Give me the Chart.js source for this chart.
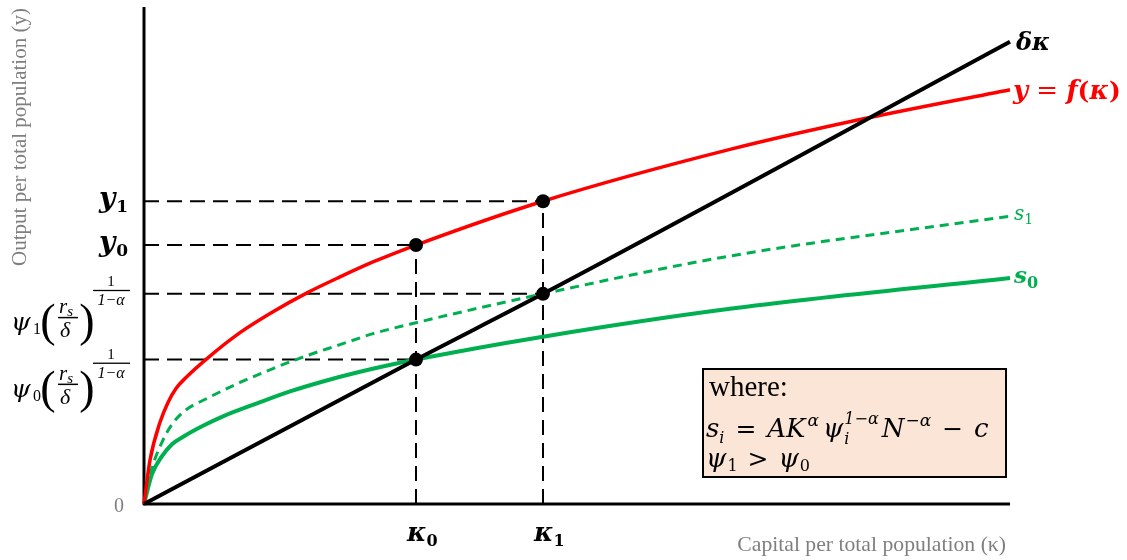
<!DOCTYPE html>
<html>
<head>
<meta charset="utf-8">
<script src="https://cdn.jsdelivr.net/npm/chart.js"></script>
<style>
  html, body { margin: 0; padding: 0; background: #fff; }
  #wrap { width: 1127px; height: 560px; }
</style>
</head>
<body>
<div id="wrap"><canvas id="solowChart"></canvas></div>
<script>
    // Kurver lest av bildet: [kapital per innbygger, produksjon per innbygger]
    const deltaK = [[0, 0], [272, 145], [399, 211], [866, 464]];
    const fK = [[0, 0], [6, 44], [16, 82], [24, 102], [32, 116], [42, 127], [63, 146], [96, 172], [129, 193],
        [163, 212], [196, 228], [229, 243], [272, 260], [399, 304], [586, 356], [716, 386], [866, 416]];
    const s0 = [[0, 0], [8, 30], [18, 48], [28, 60], [40, 68], [60, 79], [79, 88], [113, 101], [146, 113],
        [179, 123], [213, 132], [272, 145], [399, 168], [586, 196], [866, 227]];
    const s1 = [[0, 0], [8, 36], [18, 62], [28, 80], [40, 93], [63, 106], [96, 122], [129, 136], [163, 149],
        [196, 160], [229, 171], [272, 182], [399, 211], [586, 249], [866, 289]];

    // Likevektspunkter
    const kappaStar = [272, 399];   // κ0, κ1
    const yStar = [260, 304];       // y0, y1
    const psiStar = [145, 211];     // ψ0(rs/δ)^(1/(1-α)), ψ1(...)

    const xMax = 866;
    const yMax = 499;

    const RED = '#ff0000';
    const GREEN = '#00b050';
    const GRAY = '#7f7f7f';

    const toXY = arr => arr.map(p => ({ x: p[0], y: p[1] }));

    // Stiplede hjelpelinjer
    const guides = [];
    for (let i = 0; i < 2; i++) {
        guides.push([{ x: 0, y: yStar[i] }, { x: kappaStar[i], y: yStar[i] }]);
        guides.push([{ x: 0, y: psiStar[i] }, { x: kappaStar[i], y: psiStar[i] }]);
        guides.push([{ x: kappaStar[i], y: 0 }, { x: kappaStar[i], y: yStar[i] }]);
    }
    const dots = [];
    for (let i = 0; i < 2; i++) {
        dots.push({ x: kappaStar[i], y: yStar[i] });
        dots.push({ x: kappaStar[i], y: psiStar[i] });
    }

    const MATH = '"DejaVu Serif", serif';
    const TITLE = '"Liberation Serif", serif';

    // tegner tekstbiter etter hverandre, returnerer slutt-x
    function runs(ctx, x, y, parts) {
        ctx.textAlign = 'left';
        ctx.textBaseline = 'alphabetic';
        for (const p of parts) {
            ctx.font = p.f;
            ctx.fillStyle = p.c || '#000';
            ctx.fillText(p.t, x + (p.dx || 0), y + (p.dy || 0));
            x += ctx.measureText(p.t).width + (p.dx || 0);
        }
        return x;
    }

    function psiLabel(ctx, x, base, sub, expBar) {
        // ψ_i ( r_s / δ )^{1/(1-α)}
        ctx.fillStyle = '#000';
        runs(ctx, x, base, [{ t: 'ψ', f: 'italic 25px ' + MATH }]);
        runs(ctx, x + 22, base + 4, [{ t: sub, f: '16px ' + TITLE }]);
        ctx.font = '46px ' + TITLE;
        ctx.textAlign = 'center';
        ctx.fillText('(', x + 37, base + 6);
        ctx.fillText(')', x + 76, base + 6);
        // brøk rs / δ
        runs(ctx, x + 48, base - 17, [
            { t: 'r', f: 'italic 21px ' + TITLE },
            { t: 's', f: 'italic 15px ' + TITLE, dy: 3 }
        ]);
        ctx.fillRect(x + 47, base - 13, 20, 1.5);
        runs(ctx, x + 49, base + 7, [{ t: 'δ', f: 'italic 22px ' + TITLE }]);
        // eksponent 1/(1-α)
        const ey = base - expBar;
        ctx.textAlign = 'center';
        ctx.font = '15px ' + TITLE;
        ctx.fillText('1', x + 100, ey - 4);
        ctx.fillRect(x + 82, ey, 37, 1.3);
        ctx.font = 'italic 16px ' + TITLE;
        ctx.fillText('1−α', x + 100, ey + 15);
        ctx.textAlign = 'left';
    }

    const labelPlugin = {
        id: 'labels',
        beforeDatasetsDraw(chart) {
            const { ctx, chartArea: a } = chart;
            ctx.save();
            ctx.strokeStyle = '#000';
            ctx.lineWidth = 3;
            ctx.beginPath();
            ctx.moveTo(a.left, a.top);
            ctx.lineTo(a.left, a.bottom + 1);
            ctx.moveTo(a.left - 1, a.bottom);
            ctx.lineTo(a.right, a.bottom);
            ctx.stroke();
            ctx.restore();
        },
        afterDatasetsDraw(chart) {
            const { ctx, chartArea: a, scales } = chart;
            const sx = scales.x, sy = scales.y;
            ctx.save();

            // aksetitler
            ctx.fillStyle = GRAY;
            ctx.font = '21.7px ' + TITLE;
            ctx.textAlign = 'right';
            ctx.textBaseline = 'middle';
            ctx.fillText('Capital per total population (κ)', a.right - 4, 545);
            ctx.font = '20px ' + TITLE;
            ctx.fillText('0', a.left - 20, a.bottom + 3);
            ctx.save();
            ctx.translate(20, 137);
            ctx.rotate(-Math.PI / 2);
            ctx.textAlign = 'center';
            ctx.font = '21px ' + TITLE;
            ctx.fillText('Output per total population (y)', 0, 0);
            ctx.restore();

            // y-etiketter
            ctx.fillStyle = '#000';
            const yl = [['y', '1', yStar[1]], ['y', '0', yStar[0]]];
            for (const [t, s, v] of yl) {
                const py = sy.getPixelForValue(v);
                ctx.font = 'bold italic 28px ' + MATH;
                const w1 = ctx.measureText(t).width;
                ctx.font = 'bold 17px ' + MATH;
                const w2 = ctx.measureText(s).width;
                runs(ctx, 128 - w1 - w2 - 1, py + 6, [
                    { t: t, f: 'bold italic 28px ' + MATH },
                    { t: s, f: 'bold 17px ' + MATH, dy: 5, dx: 1 }
                ]);
            }
            psiLabel(ctx, 11, sy.getPixelForValue(psiStar[1]) + 36, '1', 40);
            psiLabel(ctx, 11, sy.getPixelForValue(psiStar[0]) + 37, '0', 34);

            // κ-etiketter
            for (let i = 0; i < 2; i++) {
                const px = sx.getPixelForValue(kappaStar[i]);
                runs(ctx, px - 9, a.bottom + 37, [
                    { t: 'κ', f: 'bold italic 26px ' + MATH },
                    { t: String(i), f: 'bold 16px ' + MATH, dy: 5 }
                ]);
            }

            // kurvenavn
            const ex = sx.getPixelForValue(xMax) + 4;
            runs(ctx, ex + 2, sy.getPixelForValue(deltaK[deltaK.length - 1][1]) + 8, [
                { t: 'δκ', f: 'bold italic 24px ' + MATH }
            ]);
            runs(ctx, ex - 1, sy.getPixelForValue(fK[fK.length - 1][1]) + 9, [
                { t: 'y', f: 'bold italic 26px ' + MATH, c: RED },
                { t: ' = ', f: '26px ' + MATH, c: RED },
                { t: 'f', f: 'bold italic 26px ' + MATH, c: RED },
                { t: '(', f: 'bold 25px ' + MATH, c: RED },
                { t: 'κ', f: 'bold italic 26px ' + MATH, c: RED },
                { t: ')', f: 'bold 25px ' + MATH, c: RED }
            ]);
            runs(ctx, ex, sy.getPixelForValue(s1[s1.length - 1][1]) + 4, [
                { t: 's', f: 'italic 20px ' + MATH, c: GREEN },
                { t: '1', f: '14px ' + MATH, c: GREEN, dy: 4 }
            ]);
            runs(ctx, ex, sy.getPixelForValue(s0[s0.length - 1][1]) + 5, [
                { t: 's', f: 'bold italic 23px ' + MATH, c: GREEN },
                { t: '0', f: 'bold 16px ' + MATH, c: GREEN, dy: 5 }
            ]);

            // forklaringsboks
            ctx.fillStyle = '#fbe5d6';
            ctx.fillRect(703, 369, 303, 108);
            ctx.strokeStyle = '#000';
            ctx.lineWidth = 2;
            ctx.strokeRect(703, 369, 303, 108);
            runs(ctx, 709, 396, [{ t: 'where:', f: '29px ' + TITLE }]);
            let cx = runs(ctx, 706, 437, [
                { t: 's', f: 'italic 26px ' + MATH },
                { t: 'i', f: 'italic 16px ' + MATH, dy: 6 },
                { t: ' = ', f: '25px ' + MATH, dx: 3 },
                { t: 'AK', f: 'italic 26px ' + MATH, dx: 3 },
                { t: 'α', f: 'italic 17px ' + MATH, dy: -11, dx: 2 },
                { t: 'ψ', f: 'italic 26px ' + MATH, dx: 4 }
            ]);
            runs(ctx, cx + 1, 444, [{ t: 'i', f: 'italic 16px ' + MATH }]);
            cx = runs(ctx, cx + 1, 424, [{ t: '1−α', f: 'italic 16px ' + MATH }]);
            runs(ctx, cx + 3, 437, [
                { t: 'N', f: 'italic 26px ' + MATH },
                { t: '−α', f: 'italic 17px ' + MATH, dy: -11, dx: 1 },
                { t: ' − ', f: '25px ' + MATH, dx: 3 },
                { t: 'c', f: 'italic 26px ' + MATH, dx: 3 }
            ]);
            runs(ctx, 706, 467, [
                { t: 'ψ', f: 'italic 26px ' + MATH },
                { t: '1', f: '16px ' + MATH, dy: 4, dx: 1 },
                { t: ' > ', f: '25px ' + MATH, dx: 2 },
                { t: 'ψ', f: 'italic 26px ' + MATH, dx: 2 },
                { t: '0', f: '16px ' + MATH, dy: 4, dx: 1 }
            ]);
            ctx.restore();
        }
    };

    const curve = (data, color, width, dash) => ({
        data: toXY(data),
        borderColor: color,
        borderWidth: width,
        borderDash: dash || [],
        pointRadius: 0,
        cubicInterpolationMode: 'monotone',
        fill: false,
        clip: false
    });

    const datasets = [
        {
            type: 'scatter',
            data: dots,
            pointRadius: 7,
            pointBackgroundColor: '#000',
            pointBorderWidth: 0,
            clip: false
        },
        curve(deltaK, '#000', 4),
        curve(fK, RED, 3.5),
        curve(s0, GREEN, 4),
        curve(s1, GREEN, 3, [9, 6])
    ];
    for (const g of guides) {
        datasets.push({
            data: g,
            borderColor: '#000',
            borderWidth: 2,
            borderDash: [15, 8],
            pointRadius: 0,
            clip: false
        });
    }

    const ctx = document.getElementById('solowChart').getContext('2d');
    const solowChart = new Chart(ctx, {
        type: 'line',
        data: { datasets: datasets },
        options: {
            responsive: true,
            maintainAspectRatio: false,
            animation: false,
            events: [],
            layout: { padding: { left: 144, right: 117, top: 5, bottom: 56 } },
            plugins: { legend: { display: false }, tooltip: { enabled: false } },
            scales: {
                x: { type: 'linear', min: 0, max: xMax, display: false },
                y: { type: 'linear', min: 0, max: yMax, display: false }
            }
        },
        plugins: [labelPlugin]
    });
</script>
</body>
</html>
